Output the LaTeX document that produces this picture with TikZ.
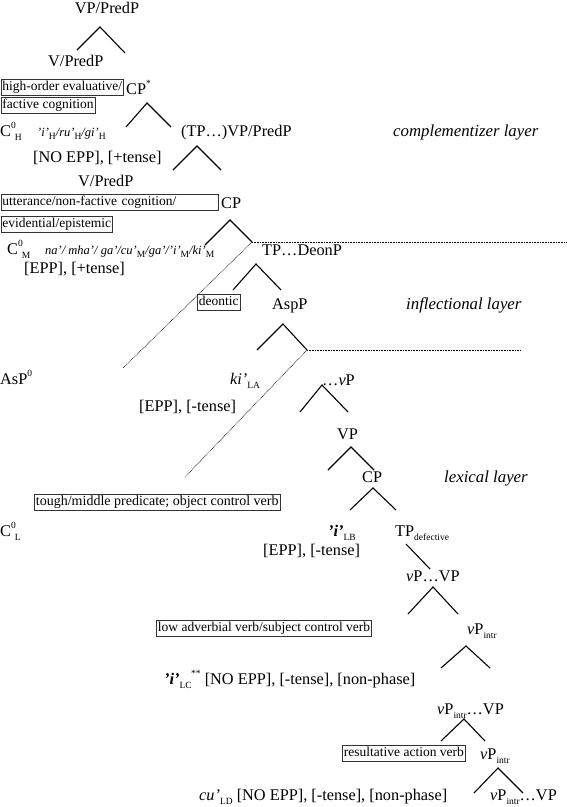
\documentclass[tikz,border=0pt]{standalone}
\usepackage{fontspec}
\setmainfont{Liberation Serif}
\newcommand\fsz[1]{\fontsize{#1}{#1}\selectfont}
\newcommand\mysub[1]{\raisebox{-0.28em}{\fsz{9.5}\upshape\mdseries #1}}
\newcommand\mysup[1]{\raisebox{0.45em}{\fsz{9.5}\upshape\mdseries #1}}
\newcommand\supsub[2]{\mysup{#1}\kern-1pt\mysub{#2}}
\tikzset{
  lbl/.style={inner sep=0pt, anchor=base west, font=\fsz{16.3}},
  lblc/.style={inner sep=0pt, anchor=base, font=\fsz{16.3}},
  lay/.style={inner sep=0pt, anchor=base west, font=\fsz{16.8}\itshape},
  bi/.style={inner sep=0pt, anchor=base west, font=\fsz{12.5}\itshape},
  bx/.style={draw=black!80, line width=0.9pt, inner xsep=1.5pt, inner ysep=1pt,
    anchor=north west, font=\fsz{13.5}, text height=10.5pt, text depth=3.5pt},
  br/.style={line width=1.1pt},
  dt/.style={line width=0.6pt, dash pattern=on 0.8pt off 0.8pt}
}
\begin{document}
\begin{tikzpicture}[x=1pt,y=-1pt]
\useasboundingbox (0,0) rectangle (567,807);
% complementizer layer
\node[lblc] (vp1) at (107,13) {VP/PredP};
\node[lbl] (vpr1) at (48,66) {V/PredP};
\node[bx] (b1) at (0.5,79) {high-order evaluative/};
\node[lbl] (cpstar) at (126,94) {CP\mysup{*}};
\node[bx] (b2) at (0.5,97) {factive cognition};
\node[lbl] (c0h) at (0,136) {C\supsub{0}{H}};
\node[bi] (ih) at (37,136) {'i'\mysub{H}/ru'\mysub{H}/gi'\mysub{H}};
\node[lbl] (tpvp) at (181,136) {(TP…)VP/PredP};
\node[lay] (comp) at (393,136) {complementizer layer};
\node[lbl] (noepp1) at (33,162) {[NO EPP], [+tense]};
\node[lbl] (vpr2) at (78,186) {V/PredP};
\node[bx, text width=214pt, align=left] (b3) at (0.5,194) {utterance/non-factive cognition/};
\node[lbl] (cp1) at (221,208) {CP};
\node[bx] (b4) at (0.5,216) {evidential/epistemic};
\node[lbl] (c0m) at (7,254) {C\supsub{0}{M}};
\node[bi] (na) at (45,254) {na'/ mha'/ ga'/cu'\mysub{M}/ga'/'i'\mysub{M}/ki'\mysub{M}};
\node[lbl] (tpdeon) at (262,255) {TP…DeonP};
\node[lbl] (epp1) at (24,273) {[EPP], [+tense]};
% inflectional layer
\node[bx] (b5) at (197,294) {deontic};
\node[lbl] (aspp) at (272,309) {AspP};
\node[lay] (infl) at (406,309) {inflectional layer};
\node[lbl] (asp0) at (0,384) {AsP\mysup{0}};
\node[lbl] (kila) at (230,384) {\itshape ki'\mysub{LA}};
\node[lbl] (vp2) at (322,385) {…\textit{v}P};
\node[lbl] (epp2) at (139,411) {[EPP], [-tense]};
\node[lbl] (vp3) at (337,439) {VP};
% lexical layer
\node[lbl] (cp2) at (362,482) {CP};
\node[lay] (lex) at (444,482) {lexical layer};
\node[bx, font=\fsz{14}] (b6) at (34,494) {tough/middle predicate; object control verb};
\node[lbl] (c0l) at (0,536) {C\supsub{0}{L}};
\node[lbl] (ilb) at (328,536) {\bfseries\itshape 'i'\mysub{LB}};
\node[lbl] (tpdef) at (395,536) {TP\mysub{defective}};
\node[lbl] (epp3) at (263,555) {[EPP], [-tense]};
\node[lbl] (vpvp) at (406,581) {\textit{v}P…VP};
\node[bx] (b7) at (156,620) {low adverbial verb/subject control verb};
\node[lbl] (vpintr1) at (467,634) {\textit{v}P\mysub{intr}};
\node[lbl] (ilc) at (164,684) {\textbf{\textit{'i'}}\mysub{LC}\kern-0.5pt\mysup{**} [NO EPP], [-tense], [non-phase]};
\node[lbl] (vpintrvp1) at (437,714) {\textit{v}P\mysub{intr}…VP};
\node[bx] (b8) at (342,745) {resultative action verb};
\node[lbl] (vpintr2) at (480,759) {\textit{v}P\mysub{intr}};
\node[lbl] (culd) at (199,800) {\textit{cu'}\mysub{LD} [NO EPP], [-tense], [non-phase]};
\node[lbl] (vpintrvp2) at (490,800) {\textit{v}P\mysub{intr}…VP};
% branch points
\coordinate (t1a) at (100,27); \coordinate (t1l) at (77,50); \coordinate (t1r) at (125,53);
\coordinate (t2a) at (147,103); \coordinate (t2l) at (126,127); \coordinate (t2r) at (171,127);
\coordinate (t3a) at (197,146); \coordinate (t3l) at (173,170); \coordinate (t3r) at (221,170);
\coordinate (t4a) at (230,220); \coordinate (t4l) at (205,245); \coordinate (t4r) at (252,242);
\coordinate (t5a) at (256,264); \coordinate (t5l) at (233,290); \coordinate (t5r) at (281,290);
\coordinate (t6a) at (283,324); \coordinate (t6l) at (257,350); \coordinate (t6r) at (307,350);
\coordinate (t7a) at (322,385); \coordinate (t7l) at (300,412); \coordinate (t7r) at (348,412);
\coordinate (t8a) at (351,447); \coordinate (t8l) at (328,470); \coordinate (t8r) at (374,470);
\coordinate (t9a) at (373,488); \coordinate (t9l) at (350,510); \coordinate (t9r) at (396,510);
\coordinate (t10a) at (406,544); \coordinate (t10r) at (430,569);
\coordinate (t11a) at (433,587); \coordinate (t11l) at (408,614); \coordinate (t11r) at (458,614);
\coordinate (t12a) at (466,646); \coordinate (t12l) at (441,668); \coordinate (t12r) at (490,668);
\coordinate (t13a) at (464,719); \coordinate (t13l) at (441,741); \coordinate (t13r) at (485,741);
\coordinate (t14a) at (498,768); \coordinate (t14l) at (474,793); \coordinate (t14r) at (523,793);
\foreach \i in {1,2,3,4,5,6,7,8,9,11,12,13,14}{
  \draw[br] (t\i l) -- (t\i a) -- (t\i r);
}
\draw[br] (t10a) -- (t10r);
% dotted layer boundaries
\coordinate (h1e) at (567,242); \coordinate (d1e) at (123,368);
\coordinate (h2e) at (520,350); \coordinate (d2e) at (185,477);
\draw[dt] (t4r) -- (h1e);
\draw[dt] (t4r) -- (d1e);
\draw[dt] (t6r) -- (h2e);
\draw[dt] (t6r) -- (d2e);
\end{tikzpicture}
\end{document}
